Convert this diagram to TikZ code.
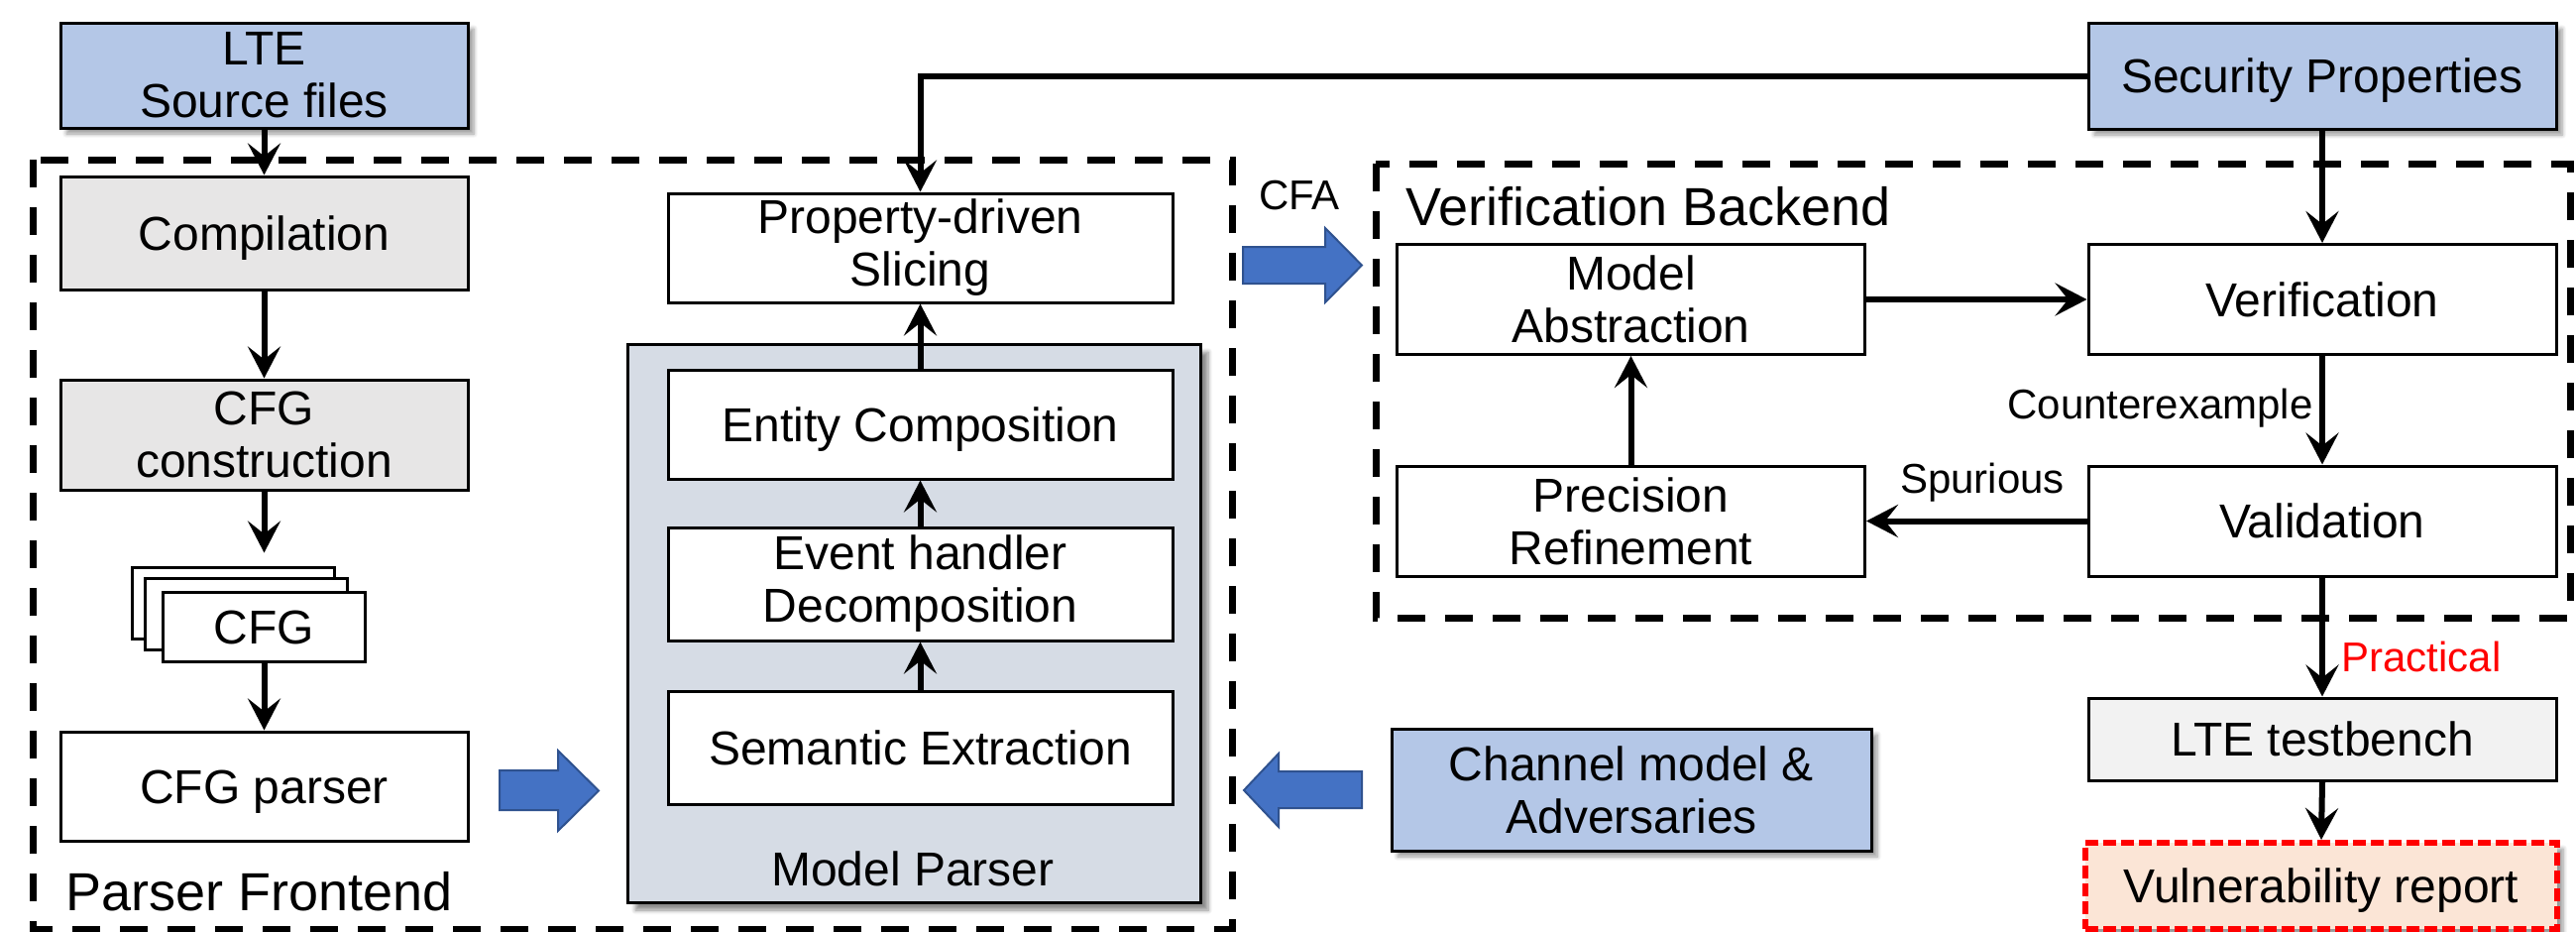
\documentclass[tikz,border=0pt]{standalone}
\usepackage{fontspec}
\setmainfont{Liberation Sans}
\usetikzlibrary{arrows.meta,shadows,shadows.blur}

\definecolor{srcblue}{HTML}{B4C7E7}
\definecolor{stepgray}{HTML}{E7E6E6}
\definecolor{parsergray}{HTML}{D6DCE5}
\definecolor{benchgray}{HTML}{F2F2F2}
\definecolor{reportfill}{HTML}{FBE5D6}
\definecolor{flowblue}{HTML}{4472C4}
\definecolor{flowedge}{HTML}{2F528F}
\definecolor{alertred}{HTML}{FF0000}

\begin{document}
\begin{tikzpicture}[x=0.5pt,y=-0.5pt,
  box/.style={draw=black, line width=1.5pt, fill=white, align=center, inner sep=0pt,
    font=\fontsize{24}{26.5}\selectfont},
  oneline/.style={text height=17.2pt, text depth=0pt},
  inputbox/.style={box, fill=srcblue,
    blur shadow={shadow xshift=3pt, shadow yshift=-3pt, shadow blur steps=6, shadow opacity=40}},
  stepbox/.style={box, fill=stepgray},
  arr/.style={line width=3pt, -{Stealth[length=16pt, width=16.5pt, inset=6.5pt]}},
  frame/.style={line width=3.5pt, dash pattern=on 14pt off 10pt},
  title/.style={inner sep=0pt, font=\fontsize{27}{30}\selectfont},
  tag/.style={inner sep=0pt, font=\fontsize{21}{24}\selectfont},
  blockarrow/.style={fill=flowblue, draw=flowedge, line width=1pt, line join=miter},
]
\useasboundingbox (0,0) rectangle (2599,939);

% ---------- Parser frontend ----------
\draw[frame] (33,161) rectangle (1243,937);
\node[title, anchor=base west] (pftitle) at (66,918) {Parser Frontend};

\node[inputbox, minimum width=205.5pt, minimum height=53pt] (lte) at (266.5,76) {LTE\\Source files};
\node[stepbox, oneline, minimum width=205.5pt, minimum height=57pt] (comp) at (266.5,235) {Compilation};
\node[stepbox, minimum width=205.5pt, minimum height=55.5pt] (cfgc) at (266.5,438.5) {CFG\\construction};

% stack of control-flow graphs
\node[box, minimum width=102pt, minimum height=36pt] (cfg3) at (235.5,608) {};
\node[box, minimum width=102pt, minimum height=36pt] (cfg2) at (248.5,619) {};
\node[box, oneline, minimum width=102pt, minimum height=35pt] (cfg1) at (266.5,632) {CFG};

\node[box, oneline, minimum width=205.5pt, minimum height=55pt] (parser) at (266.5,793) {CFG parser};

\draw[arr] (lte.south) -- (comp.north);
\draw[arr] (comp.south) -- (cfgc.north);
\draw[arr, shorten >=6.5pt] (cfgc.south) -- (cfgc.south |- cfg3.north);
\draw[arr] (cfg1.south) -- (cfg1.south |- parser.north);

% model parser
\node[box, fill=parsergray, minimum width=289pt, minimum height=281.5pt,
  blur shadow={shadow xshift=4pt, shadow yshift=-4pt, shadow blur steps=6, shadow opacity=45}] (mp) at (922,628.5) {};
\node[inner sep=0pt, font=\fontsize{24}{26.5}\selectfont, anchor=base] (mptitle) at (921,893) {Model Parser};

\node[box, minimum width=254.5pt, minimum height=55pt] (slicing) at (928.5,250) {Property-driven\\Slicing};
\node[box, oneline, minimum width=254.5pt, minimum height=55pt] (entity) at (928.5,428) {Entity Composition};
\node[box, minimum width=254.5pt, minimum height=57pt] (event) at (928.5,589) {Event handler\\Decomposition};
\node[box, oneline, minimum width=254.5pt, minimum height=57pt] (semantic) at (928.5,754) {Semantic Extraction};

\draw[arr] (semantic.north) -- (event.south);
\draw[arr] (event.north) -- (entity.south);
\draw[arr] (entity.north) -- (slicing.south);

% CFG parser feeds the model parser
\draw[blockarrow] (504,777) -- (563,777) -- (563,757) -- (604,797.5) -- (563,838) -- (563,817) -- (504,817) -- cycle;

% ---------- Verification backend ----------
\draw[frame] (1388,165) rectangle (2593,623);
\node[title, anchor=base west] (vbtitle) at (1418,227) {Verification Backend};

\node[tag, anchor=base] (cfa) at (1311,211) {CFA};
\draw[blockarrow] (1254,249) -- (1337,249) -- (1337,230) -- (1374,267.5) -- (1337,305) -- (1337,286) -- (1254,286) -- cycle;

\node[inputbox, oneline, minimum width=236pt, minimum height=53.5pt] (sec) at (2343,76.5) {Security Properties};

\node[box, minimum width=236pt, minimum height=55.5pt] (modelabs) at (1645.5,302) {Model\\Abstraction};
\node[box, oneline, minimum width=236pt, minimum height=55.5pt] (verif) at (2343,302) {Verification};
\node[box, minimum width=236pt, minimum height=55.5pt] (prec) at (1645.5,525.5) {Precision\\Refinement};
\node[box, oneline, minimum width=236pt, minimum height=55.5pt] (valid) at (2343,525.5) {Validation};

\draw[arr] (sec.west) -| (slicing.north);
\draw[arr] (sec.south) -- (verif.north);
\draw[arr] (modelabs.east) -- (verif.west);
\draw[arr] (verif.south) -- (valid.north);
\draw[arr] (valid.west) -- (prec.east);
\draw[arr] (prec.north) -- (modelabs.south);

\node[tag, anchor=base east] (cex) at (2334,422) {Counterexample};
\node[tag, anchor=base] (spur) at (2000,497) {Spurious};

% ---------- Outside the backend ----------
\node[inputbox, minimum width=242pt, minimum height=61.5pt] (channel) at (1646,796.5) {Channel model \&\\Adversaries};
\draw[blockarrow] (1374,778) -- (1290,778) -- (1290,760) -- (1255,797) -- (1290,834) -- (1290,815) -- (1374,815) -- cycle;

\node[box, oneline, fill=benchgray, minimum width=236pt, minimum height=41.5pt] (tb) at (2343,745.5) {LTE testbench};
\node[box, oneline, fill=reportfill, draw=alertred, line width=3pt, dash pattern=on 6.5pt off 2.5pt,
  minimum width=238pt, minimum height=43.5pt,
  blur shadow={shadow xshift=3pt, shadow yshift=-3pt, shadow blur steps=6, shadow opacity=40}] (vuln) at (2342,893.5) {Vulnerability report};

\draw[arr] (valid.south) -- (tb.north);
\draw[arr] (tb.south) -- (vuln.north);
\node[tag, anchor=base west, text=alertred] (prac) at (2362,677) {Practical};
\end{tikzpicture}
\end{document}
